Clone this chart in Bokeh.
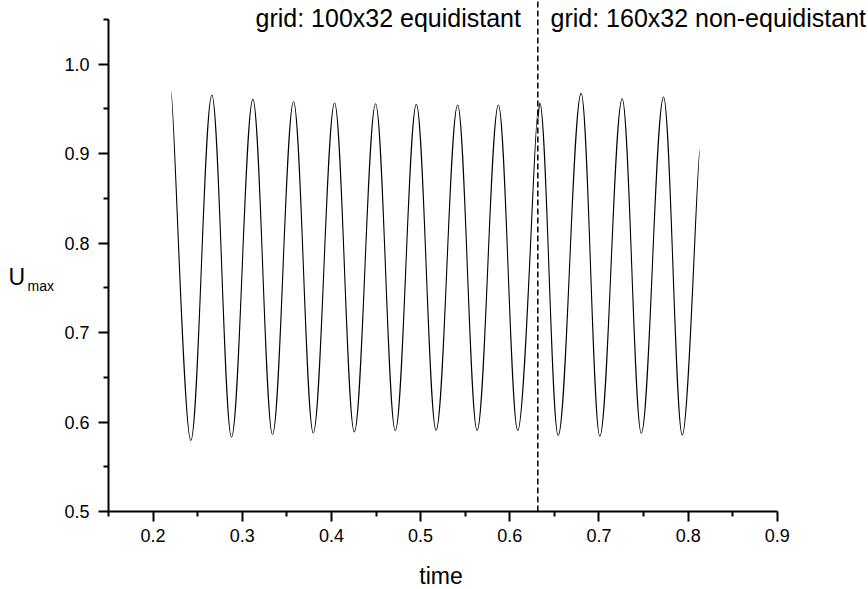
from bokeh.plotting import figure
from bokeh.models import ColumnDataSource, FixedTicker, Label, Range1d
from bokeh.embed import file_html
from bokeh.resources import INLINE

# ---------------- data ----------------
# run 1: grid 100x32 equidistant (first point, alternating extrema, last point)
seg1_time = [0.2202, 0.2423, 0.2659, 0.2879, 0.3119, 0.3339, 0.3575, 0.3796,
             0.4035, 0.4256, 0.4495, 0.4716, 0.4952, 0.5173, 0.5415, 0.5633,
             0.5872, 0.6089, 0.6312]
seg1_umax = [0.9693, 0.5793, 0.9656, 0.5830, 0.9607, 0.5860, 0.9581, 0.5879,
             0.9566, 0.5890, 0.9559, 0.5902, 0.9551, 0.5908, 0.9544, 0.5905,
             0.9544, 0.5905, 0.9450]
# run 2: grid 160x32 non-equidistant
seg2_time = [0.6316, 0.6336, 0.6542, 0.6800, 0.7009, 0.7260, 0.7474, 0.7724,
             0.7934, 0.8131]
seg2_umax = [0.9400, 0.9566, 0.5849, 0.9674, 0.5841, 0.9615, 0.5875, 0.9633,
             0.5853, 0.9041]

switch_time = 0.6314

x_ticks = [0.2, 0.3, 0.4, 0.5, 0.6, 0.7, 0.8, 0.9]
x_tick_labels = ["0.2", "0.3", "0.4", "0.5", "0.6", "0.7", "0.8", "0.9"]
x_minor = [0.15, 0.25, 0.35, 0.45, 0.55, 0.65, 0.75, 0.85]
y_ticks = [0.5, 0.6, 0.7, 0.8, 0.9, 1.0]
y_tick_labels = ["0.5", "0.6", "0.7", "0.8", "0.9", "1.0"]
y_minor = [0.55, 0.65, 0.75, 0.85, 0.95, 1.05]

left_text = "grid: 100x32 equidistant"
right_text = "grid: 160x32 non-equidistant"
x_title = "time"
y_title_main = "U"
y_title_sub = "max"

FONT = "Liberation Sans"
W, H = 868, 589
# screen scale (px per data unit) and the origin of the axes in pixels
SX, SY = 891.8, 894.5
X0_PX, Y0_PX = 108, 511
XA, XB = 0.15, 0.9
YA, YB = 0.5, 1.05

x_start = XA - X0_PX / SX
x_end = x_start + W / SX
y_start = YA - (H - Y0_PX) / SY
y_end = y_start + H / SY


def px_x(px):
    return x_start + px / SX


def px_y(py):
    return y_end - py / SY


def bezier_source(t, u, k=0.3642, k_end=0.15):
    """Smooth curve through the read points: horizontal tangents at the extrema."""
    cols = dict(x0=[], y0=[], x1=[], y1=[], cx0=[], cy0=[], cx1=[], cy1=[])
    n = len(t)
    for i in range(n - 1):
        xa, ya, xb, yb = t[i], u[i], t[i + 1], u[i + 1]
        dx = xb - xa
        ka = k if i > 0 else k_end
        kb = k if i + 1 < n - 1 else k_end
        cols["x0"].append(xa)
        cols["y0"].append(ya)
        cols["x1"].append(xb)
        cols["y1"].append(yb)
        cols["cx0"].append(xa + ka * dx)
        cols["cy0"].append(ya)
        cols["cx1"].append(xb - kb * dx)
        cols["cy1"].append(yb)
    return ColumnDataSource(cols)


p = figure(width=W, height=H, output_backend="svg", toolbar_location=None,
           title=None,
           x_range=Range1d(x_start, x_end), y_range=Range1d(y_start, y_end),
           min_border=0, min_border_left=0, min_border_right=0,
           min_border_top=0, min_border_bottom=0)
p.outline_line_color = None
p.background_fill_color = "white"
p.border_fill_color = "white"
p.xgrid.visible = False
p.ygrid.visible = False

for t, u in ((seg1_time, seg1_umax), (seg2_time, seg2_umax)):
    src = bezier_source(t, u)
    p.bezier(x0="x0", y0="y0", x1="x1", y1="y1", cx0="cx0", cy0="cy0",
             cx1="cx1", cy1="cy1", source=src, line_color="black", line_width=1.1)

# dashed marker of the grid change, from the time axis to the top edge
p.segment(x0=[switch_time], y0=[YA], x1=[switch_time], y1=[y_end],
          line_color="black", line_width=1.5, line_dash="6 3")

# axes, drawn at fixed locations
for ax in (p.xaxis[0], p.yaxis[0]):
    ax.axis_line_width = 2
    ax.axis_line_color = "black"
    ax.major_tick_line_width = 2
    ax.minor_tick_line_width = 2
    ax.major_tick_line_color = "black"
    ax.minor_tick_line_color = "black"
    ax.major_tick_in = 0
    ax.major_tick_out = 10
    ax.minor_tick_in = 0
    ax.minor_tick_out = 5
    ax.major_label_text_font = FONT
    ax.major_label_text_font_size = "18px"
    ax.major_label_text_color = "black"

p.xaxis[0].ticker = FixedTicker(ticks=x_ticks, minor_ticks=x_minor)
p.xaxis[0].major_label_overrides = dict(zip(x_ticks, x_tick_labels))
p.xaxis[0].bounds = (XA, XB)
p.xaxis[0].fixed_location = YA
p.xaxis[0].major_label_standoff = 7

p.yaxis[0].ticker = FixedTicker(ticks=y_ticks, minor_ticks=y_minor)
p.yaxis[0].major_label_overrides = dict(zip(y_ticks, y_tick_labels))
p.yaxis[0].bounds = (YA, YB)
p.yaxis[0].fixed_location = XA
p.yaxis[0].major_label_standoff = 9

# axis titles
p.add_layout(Label(x=px_x(440.5), y=px_y(575), text=x_title, text_font=FONT,
                   text_font_size="23px", text_color="black",
                   text_baseline="alphabetic", text_align="center"))
p.add_layout(Label(x=px_x(8), y=px_y(276), text=y_title_main, text_font=FONT,
                   text_font_size="23px", text_color="black",
                   text_baseline="alphabetic", text_align="left"))
p.add_layout(Label(x=px_x(27), y=px_y(285), text=y_title_sub, text_font=FONT,
                   text_font_size="14px", text_color="black",
                   text_baseline="alphabetic", text_align="left"))

# annotations at the top
p.add_layout(Label(x=px_x(255), y=px_y(17), text=left_text, text_font=FONT,
                   text_font_size="25px", text_color="black",
                   text_baseline="alphabetic", text_align="left"))
p.add_layout(Label(x=px_x(550), y=px_y(17), text=right_text, text_font=FONT,
                   text_font_size="25px", text_color="black",
                   text_baseline="alphabetic", text_align="left"))

open("out.html", "w").write(file_html(p, INLINE))
